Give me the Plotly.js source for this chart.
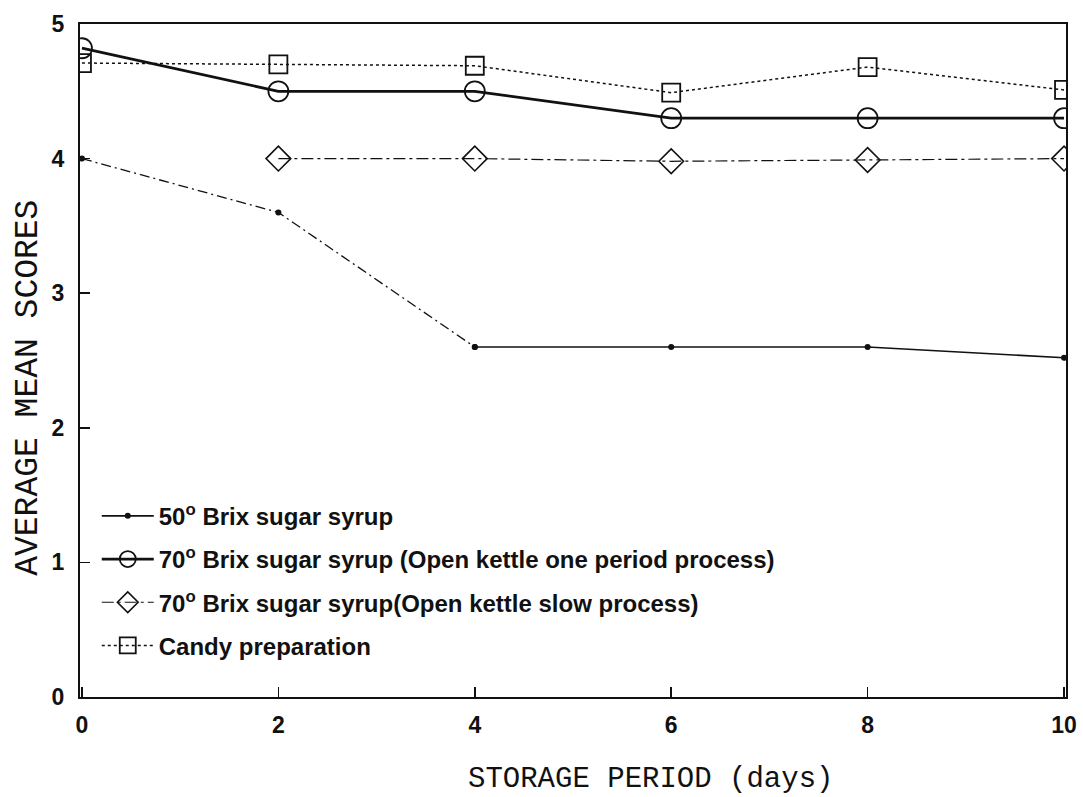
<!DOCTYPE html>
<html>
<head>
<meta charset="utf-8">
<script src="https://cdn.plot.ly/plotly-3.0.1.min.js"></script>
<style>html,body{margin:0;padding:0;background:#fff;}#chart{width:1083px;height:797px;}</style>
</head>
<body>
<div id="chart"></div>
<script>
// Data
const days = [0, 2, 4, 6, 8, 10];
const brix50 = [4.0, 3.6, 2.6, 2.6, 2.6, 2.52];
const brix70OnePeriod = [4.82, 4.5, 4.5, 4.3, 4.3, 4.3];
const slowDays = [2, 4, 6, 8, 10];
const brix70Slow = [4.0, 4.0, 3.98, 3.99, 4.0];
const candy = [4.71, 4.7, 4.69, 4.49, 4.68, 4.51];
const names = [
  "50<sup>o</sup> Brix sugar syrup",
  "70<sup>o</sup> Brix sugar syrup (Open kettle one period process)",
  "70<sup>o</sup> Brix sugar syrup(Open kettle slow process)",
  "Candy preparation"
];
const xTicks = [0, 2, 4, 6, 8, 10];
const yTicks = [0, 1, 2, 3, 4, 5];
const xTitle = 'STORAGE PERIOD (days)';
const yTitle = 'AVERAGE MEAN SCORES';

const traces = [
  { x: days.slice(0, 3), y: brix50.slice(0, 3), mode: 'lines+markers', showlegend: false,
    legendgroup: 'a',
    line: { color: '#111', width: 1.3, dash: '10px,4px,2px,4px' },
    marker: { symbol: 'circle', size: 6, color: '#111' }, hoverinfo: 'skip' },
  { x: days.slice(2), y: brix50.slice(2), mode: 'lines+markers', name: names[0],
    legendgroup: 'a',
    line: { color: '#111', width: 1.6 },
    marker: { symbol: 'circle', size: 6, color: '#111' } },
  { x: days, y: brix70OnePeriod, mode: 'lines+markers', name: names[1],
    legendgroup: 'b',
    line: { color: '#111', width: 2.8 },
    marker: { symbol: 'circle-open', size: 20, color: '#111', line: { width: 1.8 } } },
  { x: slowDays, y: brix70Slow, mode: 'lines+markers', name: names[2],
    legendgroup: 'c',
    line: { color: '#111', width: 1.2, dash: '12px,4px,3px,4px' },
    marker: { symbol: 'diamond-open', size: 19, color: '#111', line: { width: 1.6 } } },
  { x: days, y: candy, mode: 'lines+markers', name: names[3],
    legendgroup: 'd',
    line: { color: '#111', width: 1.5, dash: 'dot' },
    marker: { symbol: 'square-open', size: 18, color: '#111', line: { width: 1.8 } } }
];

const tickFont = { family: 'Liberation Sans, Arial, sans-serif', size: 23, color: '#111', weight: 'bold' };
const titleFont = { family: 'Liberation Mono, Courier New, monospace', color: '#111' };

const layout = {
  width: 1083, height: 797,
  margin: { l: 80, r: 17, t: 24, b: 100 },
  paper_bgcolor: '#fff', plot_bgcolor: '#fff',
  showlegend: true,
  legend: {
    x: 0.017, y: 0.302, xanchor: 'left', yanchor: 'top',
    bgcolor: 'rgba(0,0,0,0)',
    font: { family: 'Liberation Sans, Arial, sans-serif', size: 24, color: '#111', weight: 'bold' },
    tracegroupgap: 9, itemwidth: 52
  },
  xaxis: {
    range: [-0.02, 10.02], tickvals: xTicks, ticktext: xTicks.map(String),
    ticks: 'inside', ticklen: 10, tickwidth: 1.5, tickcolor: '#111',
    showline: true, mirror: true, linecolor: '#111', linewidth: 2,
    showgrid: false, zeroline: false, tickfont: tickFont, ticklabelstandoff: 6
  },
  yaxis: {
    range: [0, 5], tickvals: yTicks, ticktext: yTicks.map(String),
    ticks: 'inside', ticklen: 10, tickwidth: 1.5, tickcolor: '#111',
    showline: true, mirror: true, linecolor: '#111', linewidth: 2,
    showgrid: false, zeroline: false, tickfont: tickFont, ticklabelstandoff: 9
  },
  annotations: [
    { text: xTitle, xref: 'paper', yref: 'paper', x: 0.579, y: -0.122,
      xanchor: 'center', yanchor: 'middle', showarrow: false,
      font: Object.assign({ size: 29 }, titleFont) },
    { text: yTitle, xref: 'paper', yref: 'paper', x: -0.053, y: 0.459,
      xanchor: 'center', yanchor: 'middle', showarrow: false, textangle: -90,
      font: Object.assign({ size: 33 }, titleFont) }
  ]
};

Plotly.newPlot('chart', traces, layout, { displayModeBar: false, staticPlot: true });
</script>
</body>
</html>
